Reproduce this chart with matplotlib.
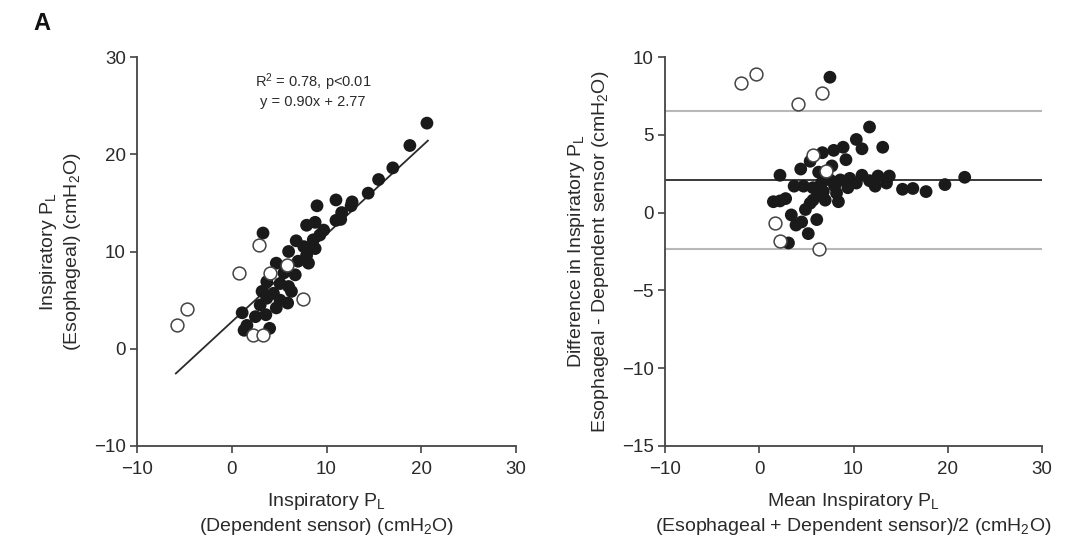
import numpy as np
import matplotlib
matplotlib.use("Agg")
import matplotlib.pyplot as plt

plt.rcParams['font.family'] = ['Liberation Sans', 'DejaVu Sans']
plt.rcParams['mathtext.default'] = 'regular'

# left panel: esophageal vs dependent sensor (filled = one group, open = other)
dep_filled = [20.6, 18.8, 17.0, 15.5, 14.4, 12.7, 12.6, 11.0, 11.6, 11.0, 11.5, 9.0, 8.8, 7.9,
              9.7, 9.3, 8.6, 6.8, 7.6, 8.8, 6.0, 7.9, 7.0, 8.1, 4.7, 5.5, 6.7, 3.7, 5.1, 6.0,
              3.2, 4.4, 6.3, 5.1, 3.7, 5.9, 3.0, 4.7, 1.1, 2.5, 3.6, 1.6, 1.3, 4.0, 3.3]
eso_filled = [23.2, 20.9, 18.6, 17.4, 16.0, 15.1, 14.7, 15.3, 14.0, 13.2, 13.3, 14.7, 13.0, 12.7,
              12.2, 11.7, 11.2, 11.1, 10.5, 10.3, 10.0, 9.6, 9.0, 8.8, 8.8, 7.8, 7.6, 6.9, 6.7, 6.4,
              5.9, 5.7, 5.9, 5.0, 5.2, 4.7, 4.5, 4.2, 3.7, 3.3, 3.5, 2.4, 1.9, 2.1, 11.9]
dep_open = [2.9, 0.8, 4.0, 5.8, 7.5, -4.7, -5.8, 2.2, 3.3]
eso_open = [10.7, 7.8, 7.8, 8.6, 5.1, 4.1, 2.4, 1.4, 1.4]
fit_slope, fit_icpt = 0.90, 2.77
fit_x = [-5.9, 20.7]

# right panel: Bland-Altman
mean_filled = [7.5, 11.7, 10.3, 10.9, 13.1, 8.9, 7.9, 6.7, 9.2, 7.7, 5.4, 4.4, 6.3, 2.2, 10.9,
               12.6, 13.8, 21.8, 9.6, 8.6, 7.5, 11.7, 6.6, 10.3, 13.5, 12.3, 9.4, 8.0, 3.7, 4.7,
               5.7, 19.7, 15.2, 16.3, 17.7, 6.8, 8.2, 6.3, 7.0, 8.4, 1.5, 2.2, 2.8, 5.7, 5.4,
               4.9, 3.4, 6.1, 4.5, 3.9, 5.2, 3.1]
diff_filled = [8.7, 5.5, 4.7, 4.1, 4.2, 4.2, 4.0, 3.85, 3.4, 3.0, 3.3, 2.8, 2.6, 2.4, 2.4,
               2.35, 2.35, 2.27, 2.2, 2.1, 2.1, 2.05, 1.9, 1.9, 1.9, 1.7, 1.6, 1.7, 1.7, 1.7,
               1.6, 1.8, 1.5, 1.55, 1.35, 1.35, 1.25, 1.1, 0.8, 0.7, 0.7, 0.75, 0.9, 0.8, 0.6,
               0.2, -0.15, -0.45, -0.6, -0.8, -1.35, -1.95]
mean_open = [-1.9, -0.35, 4.1, 6.7, 5.7, 7.1, 1.7, 2.2, 6.3]
diff_open = [8.3, 8.9, 7.0, 7.7, 3.7, 2.7, -0.7, -1.8, -2.35]
bias = 2.08
loa = [6.52, -2.35]

fig = plt.figure(figsize=(10.8, 5.47), dpi=100)
ax1 = fig.add_axes([137/1080, 101/547, 379/1080, 389/547])
ax2 = fig.add_axes([665/1080, 101/547, 377/1080, 389/547])

dark = '#2a2a2a'
ms = 85

ax1.plot(fit_x, [fit_slope * v + fit_icpt for v in fit_x], color=dark, lw=1.3, zorder=1)
ax1.scatter(dep_filled, eso_filled, s=ms, color='#1a1a1a', edgecolors='none', zorder=2)
ax1.scatter(dep_open, eso_open, s=ms, facecolors='white', edgecolors='#444444', linewidths=1.1, zorder=3)
ax1.set_xlim(-10, 30)
ax1.set_ylim(-10, 30)
ax1.set_xticks([-10, 0, 10, 20, 30])
ax1.set_yticks([-10, 0, 10, 20, 30])
ax1.text(8.6, 26.6, 'R$^2$ = 0.78, p<0.01\ny = 0.90x + 2.77', ha='center', va='center',
         fontsize=10.5, color=dark, linespacing=1.2)
ax1.set_xlabel('Inspiratory P$_L$\n(Dependent sensor) (cmH$_2$O)', fontsize=14, color=dark,
               labelpad=9, linespacing=1.3)
ax1.set_ylabel('Inspiratory P$_L$\n(Esophageal) (cmH$_2$O)', fontsize=14, color=dark,
               labelpad=8, linespacing=1.2)

ax2.axhline(loa[0], color='#b8b8b8', lw=1.5, zorder=0)
ax2.axhline(loa[1], color='#b8b8b8', lw=1.5, zorder=0)
ax2.axhline(bias, color=dark, lw=1.3, zorder=1)
ax2.scatter(mean_filled, diff_filled, s=ms, color='#1a1a1a', edgecolors='none', zorder=2)
ax2.scatter(mean_open, diff_open, s=ms, facecolors='white', edgecolors='#444444', linewidths=1.1, zorder=3)
ax2.set_xlim(-10, 30)
ax2.set_ylim(-15, 10)
ax2.set_xticks([-10, 0, 10, 20, 30])
ax2.set_yticks([-15, -10, -5, 0, 5, 10])
ax2.set_xlabel('Mean Inspiratory P$_L$\n(Esophageal + Dependent sensor)/2 (cmH$_2$O)', fontsize=14,
               color=dark, labelpad=9, linespacing=1.3)
ax2.set_ylabel('Difference in Inspiratory P$_L$\nEsophageal - Dependent sensor (cmH$_2$O)', fontsize=14,
               color=dark, labelpad=8, linespacing=1.2)

for ax in (ax1, ax2):
    for s in ('top', 'right'):
        ax.spines[s].set_visible(False)
    for s in ('left', 'bottom'):
        ax.spines[s].set_color('#444444')
        ax.spines[s].set_linewidth(1.3)
    ax.tick_params(direction='out', length=5, width=1.2, color='#444444', labelsize=13.5,
                   labelcolor=dark, pad=3)
    ax.tick_params(axis='x', pad=6)
    ax.set_xticklabels([t.replace('-', '\u2212') for t in ['-10', '0', '10', '20', '30']])

fig.text(0.031, 0.957, 'A', fontsize=17, fontweight='bold', color='#111111', ha='left', va='center')

fig.savefig('out.png', dpi=100)
